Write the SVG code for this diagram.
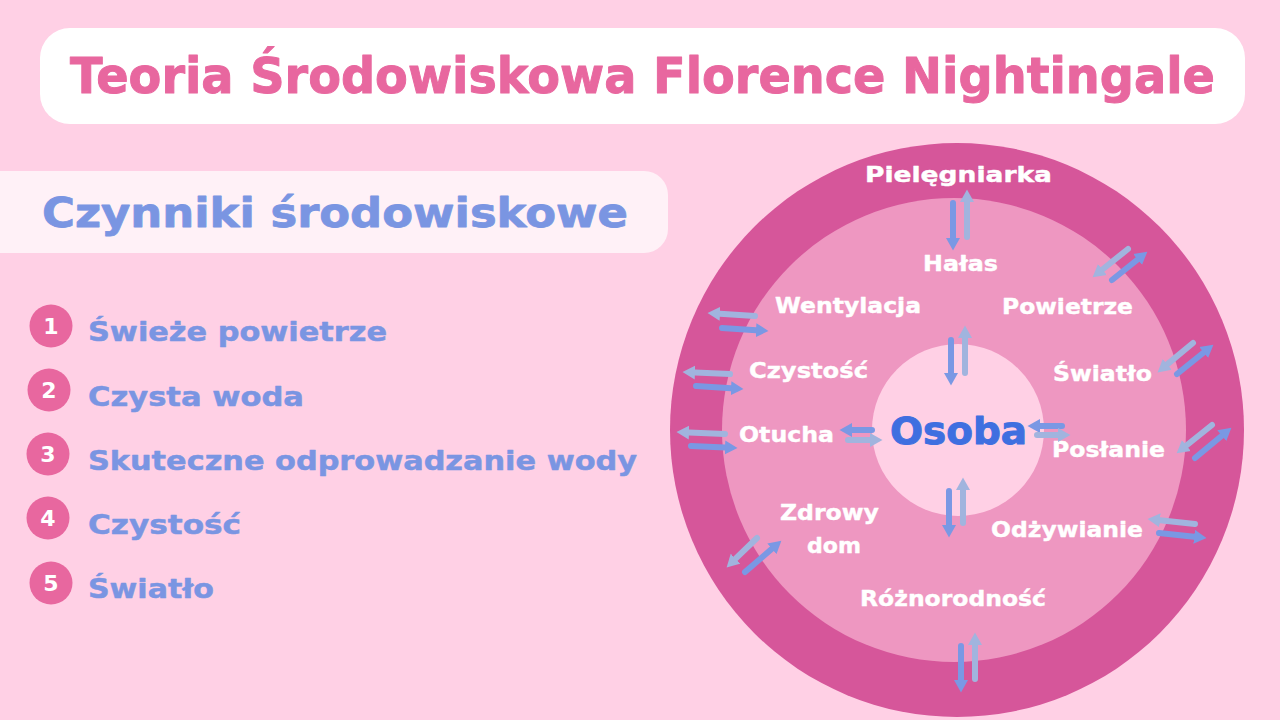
<svg xmlns="http://www.w3.org/2000/svg" width="1280" height="720" viewBox="0 0 1280 720">
<style>
.title{font-family:"DejaVu Sans","Liberation Sans",sans-serif;font-weight:bold;fill:#E8679F;stroke:#E8679F;stroke-width:1;stroke-linejoin:round}
.sub{font-family:"DejaVu Sans","Liberation Sans",sans-serif;font-weight:bold;fill:#7A95E2;stroke:#7A95E2;stroke-width:0.8;stroke-linejoin:round}
.item{font-family:"DejaVu Sans","Liberation Sans",sans-serif;font-weight:bold;font-size:27px;fill:#7A95E2;stroke:#7A95E2;stroke-width:0.5;stroke-linejoin:round}
.num{font-family:"DejaVu Sans","Liberation Sans",sans-serif;font-weight:bold;font-size:22px;fill:#FFFFFF;text-anchor:middle}
.lbl{font-family:"DejaVu Sans","Liberation Sans",sans-serif;font-weight:bold;font-size:21px;fill:#FFFFFF;stroke:#FFFFFF;stroke-width:0.4;stroke-linejoin:round}
.osoba{font-family:"DejaVu Sans","Liberation Sans",sans-serif;font-weight:bold;font-size:38px;fill:#3F6FE0;stroke:#3F6FE0;stroke-width:1;stroke-linejoin:round}
.dark{stroke:#7A98E4;stroke-width:6;stroke-linecap:round;fill:none;marker-end:url(#hd)}
.light{stroke:#A1B4DE;stroke-width:6;stroke-linecap:round;fill:none;marker-end:url(#hl)}
</style>
<defs>
<marker id="hd" markerUnits="userSpaceOnUse" markerWidth="13" markerHeight="15" refX="0" refY="7.5" orient="auto" viewBox="0 0 13 15"><path d="M0,0.5 L12.5,7.5 L0,14.5 z" fill="#7A98E4"/></marker>
<marker id="hl" markerUnits="userSpaceOnUse" markerWidth="13" markerHeight="15" refX="0" refY="7.5" orient="auto" viewBox="0 0 13 15"><path d="M0,0.5 L12.5,7.5 L0,14.5 z" fill="#A1B4DE"/></marker>
</defs>
<rect width="1280" height="720" fill="#FFD0E5"/>
<g id="title">
<rect x="40" y="28" width="1205" height="96" rx="30" fill="#FFFFFF"/>
<text class="title" x="70" y="93" font-size="50" textLength="1145" lengthAdjust="spacingAndGlyphs">Teoria Środowiskowa Florence Nightingale</text>
</g>
<g id="factors-header">
<rect x="-30" y="171" width="698" height="82" rx="24" fill="#FFF1F7"/>
<text class="sub" x="42" y="227" font-size="41" textLength="586" lengthAdjust="spacingAndGlyphs">Czynniki środowiskowe</text>
</g>
<g id="factor-1"><circle cx="51" cy="326" r="21.5" fill="#E8679F"/><text class="num" x="51" y="334">1</text><text class="item" x="88" y="341" textLength="299" lengthAdjust="spacingAndGlyphs">Świeże powietrze</text></g>
<g id="factor-2"><circle cx="49" cy="390" r="21.5" fill="#E8679F"/><text class="num" x="49" y="398">2</text><text class="item" x="88" y="406" textLength="216" lengthAdjust="spacingAndGlyphs">Czysta woda</text></g>
<g id="factor-3"><circle cx="48" cy="454" r="21.5" fill="#E8679F"/><text class="num" x="48" y="462">3</text><text class="item" x="88" y="470" textLength="549" lengthAdjust="spacingAndGlyphs">Skuteczne odprowadzanie wody</text></g>
<g id="factor-4"><circle cx="48" cy="518" r="21.5" fill="#E8679F"/><text class="num" x="48" y="526">4</text><text class="item" x="88" y="534" textLength="153" lengthAdjust="spacingAndGlyphs">Czystość</text></g>
<g id="factor-5"><circle cx="51" cy="583" r="21.5" fill="#E8679F"/><text class="num" x="51" y="591">5</text><text class="item" x="88" y="598" textLength="126" lengthAdjust="spacingAndGlyphs">Światło</text></g>
<g id="outer-ring"><circle cx="957" cy="430" r="287" fill="#D6569A"/><text class="lbl" x="865" y="182" textLength="187" lengthAdjust="spacingAndGlyphs">Pielęgniarka</text></g>
<g id="middle-ring">
<circle cx="954" cy="430" r="232" fill="#EE97C1"/>
<text class="lbl" x="923" y="271" textLength="75" lengthAdjust="spacingAndGlyphs">Hałas</text>
<text class="lbl" x="775" y="313" textLength="146" lengthAdjust="spacingAndGlyphs">Wentylacja</text>
<text class="lbl" x="1002" y="314" textLength="131" lengthAdjust="spacingAndGlyphs">Powietrze</text>
<text class="lbl" x="749" y="378" textLength="119" lengthAdjust="spacingAndGlyphs">Czystość</text>
<text class="lbl" x="1053" y="381" textLength="99" lengthAdjust="spacingAndGlyphs">Światło</text>
<text class="lbl" x="739" y="442" textLength="95" lengthAdjust="spacingAndGlyphs">Otucha</text>
<text class="lbl" x="1052" y="457" textLength="113" lengthAdjust="spacingAndGlyphs">Posłanie</text>
<text class="lbl" x="780" y="520" textLength="99" lengthAdjust="spacingAndGlyphs">Zdrowy</text>
<text class="lbl" x="807" y="553" textLength="54" lengthAdjust="spacingAndGlyphs">dom</text>
<text class="lbl" x="991" y="537" textLength="152" lengthAdjust="spacingAndGlyphs">Odżywianie</text>
<text class="lbl" x="860" y="606" textLength="186" lengthAdjust="spacingAndGlyphs">Różnorodność</text>
</g>
<g id="osoba">
<circle cx="958" cy="430" r="86" fill="#FFD0E5"/>
<text class="osoba" x="890" y="444" textLength="137" lengthAdjust="spacingAndGlyphs">Osoba</text>
</g>
<g id="connectors">
<path class="dark" d="M953,203 L953,238"/>
<path class="light" d="M967,237 L967,202"/>
<path class="dark" d="M951,340 L951,373"/>
<path class="light" d="M965,373 L965,338"/>
<path class="dark" d="M1062,426 L1040,426"/>
<path class="light" d="M1037,435 L1058,435"/>
<path class="dark" d="M872,430 L852,430"/>
<path class="light" d="M848,440 L870,440"/>
<path class="dark" d="M949,491 L949,525"/>
<path class="light" d="M963,523 L963,490"/>
<path class="dark" d="M961,646 L961,680"/>
<path class="light" d="M975,679 L975,645"/>
<path class="light" d="M1195,524 L1160,520.3"/>
<path class="dark" d="M1159,533 L1194.1,536.7"/>
<path class="light" d="M755,316 L720,313.8"/>
<path class="dark" d="M722,328 L756,330.2"/>
<path class="light" d="M730,374 L695,372.5"/>
<path class="dark" d="M696,386 L731,388.2"/>
<path class="light" d="M725,434 L689,432.5"/>
<path class="dark" d="M691,446 L725,447.5"/>
<path class="light" d="M1128,249 L1102.4,269.5"/>
<path class="dark" d="M1112,280 L1137.6,259.5"/>
<path class="light" d="M1193,343 L1167.2,364.4"/>
<path class="dark" d="M1177,374 L1203.7,352.5"/>
<path class="light" d="M1212,425 L1186.4,445.5"/>
<path class="dark" d="M1195,458 L1221.8,435.7"/>
<path class="light" d="M757,538 L735.6,558.7"/>
<path class="dark" d="M745,572 L771.9,548.8"/>
</g>
</svg>
